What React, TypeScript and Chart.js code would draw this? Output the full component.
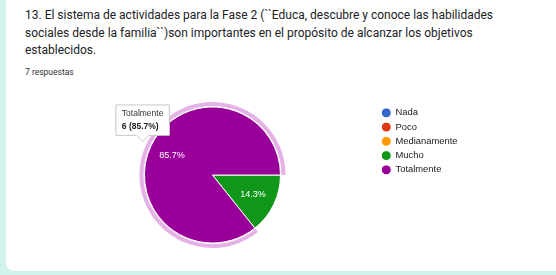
import React, { useEffect, useRef } from "react";
import { Chart, registerables, Tooltip } from "chart.js";

Chart.register(...registerables);

// ---- data ----
const questionLines = [
  "13. El sistema de actividades para la Fase 2 (``Educa, descubre y conoce las habilidades",
  "sociales desde la familia``)son importantes en el propósito de alcanzar los objetivos",
  "establecidos.",
];
const responsesLabel = "7 respuestas";
const categories = ["Nada", "Poco", "Medianamente", "Mucho", "Totalmente"];
const counts = [0, 0, 0, 1, 6];
const sliceColors = ["#3366cc", "#dc3912", "#ff9900", "#109618", "#990099"];
const highlightedIndex = 4;

const total = counts.reduce((a, b) => a + b, 0);
const pct = (v: number) => ((v / total) * 100).toFixed(1) + "%";

// tooltip anchored just outside the highlighted slice, at its middle angle
(Tooltip.positioners as any).sliceOutside = function (items: any[]) {
  if (!items.length) return false;
  const el = items[0].element;
  const mid = (el.startAngle + el.endAngle) / 2;
  const r = el.outerRadius * 1.14;
  return { x: el.x + Math.cos(mid) * r, y: el.y + Math.sin(mid) * r };
};

const hoverRingPlugin = {
  id: "hoverRing",
  beforeDatasetsDraw(chart: any) {
    const meta = chart.getDatasetMeta(0);
    const el = meta.data[highlightedIndex];
    if (!el) return;
    const ctx = chart.ctx;
    ctx.save();
    ctx.beginPath();
    ctx.arc(el.x, el.y, el.outerRadius + 5, el.startAngle, el.endAngle);
    ctx.arc(el.x, el.y, el.outerRadius + 1, el.endAngle, el.startAngle, true);
    ctx.closePath();
    ctx.fillStyle = "#e4b2e6";
    ctx.fill();
    ctx.restore();
  },
};

const sliceLabelPlugin = {
  id: "sliceLabels",
  afterDatasetsDraw(chart: any) {
    const meta = chart.getDatasetMeta(0);
    const ctx = chart.ctx;
    ctx.save();
    ctx.fillStyle = "#ffffff";
    ctx.font = "9px 'Liberation Sans', Arial, sans-serif";
    ctx.textAlign = "center";
    ctx.textBaseline = "middle";
    meta.data.forEach((el: any, i: number) => {
      if (!counts[i]) return;
      const mid = (el.startAngle + el.endAngle) / 2;
      const r = el.outerRadius * 0.66;
      ctx.fillText(pct(counts[i]), el.x + Math.cos(mid) * r, el.y + Math.sin(mid) * r);
    });
    ctx.restore();
  },
};

function PieChart() {
  const ref = useRef<HTMLCanvasElement | null>(null);
  useEffect(() => {
    if (!ref.current) return;
    const chart = new Chart(ref.current, {
      type: "pie",
      data: {
        labels: categories,
        datasets: [
          {
            data: counts,
            backgroundColor: sliceColors,
            hoverBackgroundColor: sliceColors,
            borderColor: "#ffffff",
            hoverBorderColor: "#ffffff",
            borderWidth: 1,
            hoverOffset: 0,
          },
        ],
      },
      options: {
        responsive: false,
        animation: false,
        events: [],
        rotation: 90,
        radius: 68,
        layout: { padding: { left: 48, right: 88.5, top: 18.3, bottom: 24.3 } },
        plugins: {
          legend: {
            position: "right",
            align: "start",
            labels: {
              usePointStyle: true,
              pointStyle: "circle",
              boxWidth: 9,
              boxHeight: 7,
              padding: 4.85,
              color: "#222222",
              font: { size: 9.4, family: "'Liberation Sans', Arial, sans-serif" },
            },
          },
          tooltip: {
            enabled: true,
            position: "sliceOutside" as any,
            xAlign: "center",
            yAlign: "bottom",
            backgroundColor: "#ffffff",
            borderColor: "#c8c8c8",
            borderWidth: 1,
            cornerRadius: 0,
            caretSize: 6,
            caretPadding: 0,
            padding: { left: 6, right: 6, top: 4, bottom: 4 },
            displayColors: false,
            titleColor: "#333333",
            bodyColor: "#222222",
            titleFont: { size: 8.5, weight: "normal", family: "'Liberation Sans', Arial, sans-serif" },
            bodyFont: { size: 8.5, weight: "bold", family: "'Liberation Sans', Arial, sans-serif" },
            titleMarginBottom: 2,
            callbacks: {
              title: (items: any[]) => categories[items[0].dataIndex],
              label: (item: any) => `${counts[item.dataIndex]} (${pct(counts[item.dataIndex])})`,
            },
          },
        },
      } as any,
      plugins: [hoverRingPlugin, sliceLabelPlugin],
    });
    const meta = chart.getDatasetMeta(0);
    const el: any = meta.data[highlightedIndex];
    chart.tooltip?.setActiveElements([{ datasetIndex: 0, index: highlightedIndex }], { x: el.x, y: el.y });
    chart.update();
    return () => chart.destroy();
  }, []);
  return (
    <canvas
      ref={ref}
      width={556}
      height={186}
      style={{ position: "absolute", left: 0, top: 85, width: 556, height: 186 }}
    />
  );
}

export default function App() {
  return (
    <div
      style={{
        position: "fixed",
        left: 0,
        top: 0,
        width: 556,
        height: 275,
        background: "#d0f2ea",
        overflow: "hidden",
      }}
    >
      <div
        style={{
          position: "absolute",
          left: 6,
          top: -10,
          width: 560,
          height: 281,
          background: "#ffffff",
          borderRadius: 8,
        }}
      />
      {questionLines.map((line, i) => (
        <div
          key={i}
          style={{
            position: "absolute",
            left: 25,
            top: 6 + i * 17.5,
            whiteSpace: "nowrap",
            fontFamily: "Roboto, 'Noto Sans', sans-serif",
            fontSize: 12,
            lineHeight: "18px",
            color: "#202124",
          }}
        >
          {line}
        </div>
      ))}
      <div
        style={{
          position: "absolute",
          left: 25,
          top: 66,
          whiteSpace: "nowrap",
          fontFamily: "Roboto, 'Noto Sans', sans-serif",
          fontSize: 8.5,
          lineHeight: "12px",
          color: "#333333",
        }}
      >
        {responsesLabel}
      </div>
      <PieChart />
    </div>
  );
}
